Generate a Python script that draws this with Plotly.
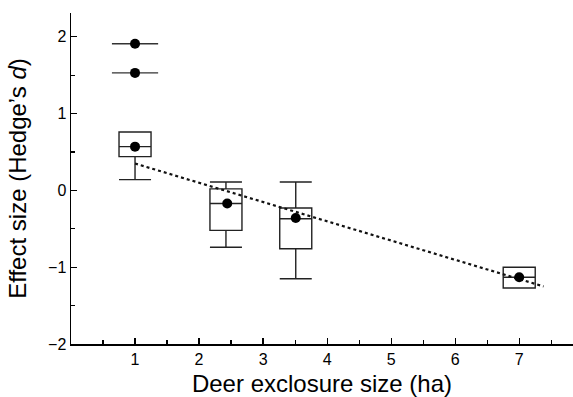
import plotly.graph_objects as go

# Box summaries (deer exclosure size in ha)
box_x = [1.0, 2.42, 3.51, 7.0]
box_q1 = [0.44, -0.52, -0.76, -1.27]
box_median = [0.57, -0.17, -0.37, -1.13]
box_q3 = [0.76, 0.02, -0.23, -1.00]
box_low = [0.14, -0.74, -1.15, -1.27]
box_high = [0.76, 0.11, 0.11, -1.00]

# Mean effect sizes (dots)
mean_x = [1.0, 2.44, 3.51, 7.0]
mean_y = [0.57, -0.17, -0.36, -1.13]

# Extreme values at 1 ha
outlier_x = [1.0, 1.0]
outlier_y = [1.91, 1.53]

# Fitted trend
trend_x = [1.0, 7.38]
trend_y = [0.35, -1.25]

x_ticks = [1, 2, 3, 4, 5, 6, 7]
y_ticks = [-2, -1, 0, 1, 2]

fig = go.Figure()

fig.add_trace(go.Box(
    x=box_x, q1=box_q1, median=box_median, q3=box_q3,
    lowerfence=box_low, upperfence=box_high,
    width=0.5, whiskerwidth=1, boxpoints=False,
    fillcolor="white", line=dict(color="#222", width=1.4),
    showlegend=False, hoverinfo="skip",
))

fig.add_trace(go.Scatter(
    x=trend_x, y=trend_y, mode="lines",
    line=dict(color="#111", width=2.2, dash="dot"),
    showlegend=False, hoverinfo="skip",
))

fig.add_trace(go.Scatter(
    x=outlier_x, y=outlier_y, mode="markers",
    marker=dict(symbol="line-ew", size=33, line=dict(color="#333", width=1.4)),
    showlegend=False, hoverinfo="skip",
))

fig.add_trace(go.Scatter(
    x=mean_x + outlier_x, y=mean_y + outlier_y, mode="markers",
    marker=dict(symbol="circle", size=10, color="black"),
    showlegend=False, hoverinfo="skip",
))

font_family = "Liberation Sans, Arial, sans-serif"

fig.update_layout(
    width=573, height=397,
    margin=dict(l=71, r=0, t=13, b=53, autoexpand=False),
    paper_bgcolor="white", plot_bgcolor="white",
    font=dict(family=font_family, color="black"),
    xaxis=dict(
        range=[0, 7.84], tickvals=x_ticks, ticks="inside", ticklen=6,
        tickwidth=1.2, tickcolor="black",
        minor=dict(dtick=0.5, tick0=0.5, ticks="inside", ticklen=4, tickcolor="black"),
        showline=True, linecolor="black", linewidth=2.2,
        showgrid=False, zeroline=False, automargin=False,
        tickfont=dict(size=16),
        title=dict(text="Deer exclosure size (ha)", font=dict(size=24), standoff=8),
    ),
    yaxis=dict(
        range=[-2, 2.31], tickvals=y_ticks, ticks="inside", ticklen=6,
        tickwidth=1.2, tickcolor="black",
        minor=dict(dtick=0.5, tick0=0.5, ticks="inside", ticklen=4, tickcolor="black"),
        showline=True, linecolor="black", linewidth=1.5,
        showgrid=False, zeroline=False, automargin=False,
        tickfont=dict(size=16),
        title=dict(text="Effect size (Hedge’s <i>d</i>)", font=dict(size=24), standoff=14),
    ),
)

fig.write_html(
    "out.html",
    config={"displayModeBar": False, "staticPlot": True},
    post_script="document.body.style.margin='0';document.body.style.overflow='hidden';",
)
